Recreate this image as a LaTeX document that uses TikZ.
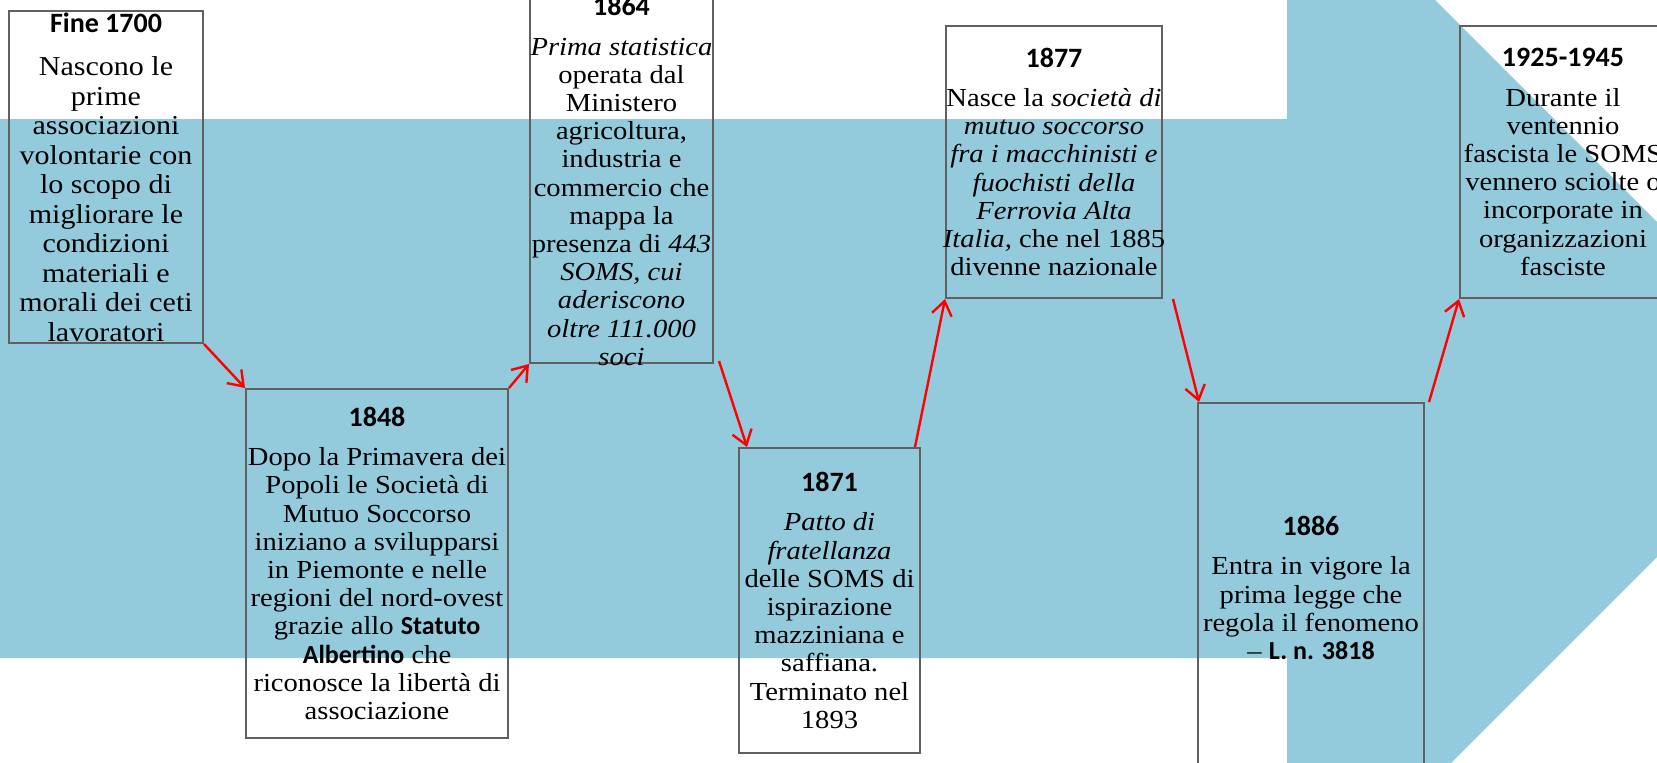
\documentclass[tikz,border=0pt]{standalone}
\usepackage{fontspec}
\setmainfont{Liberation Serif}[FakeStretch=1.1]
\newfontfamily\headfont{Carlito}
\usetikzlibrary{arrows.meta}
\definecolor{bandblue}{RGB}{147,203,220}
\definecolor{boxgray}{RGB}{96,96,96}
\newcommand{\anno}[2][5.5pt]{{\headfont\bfseries\fontsize{14}{14}\selectfont #2}\\[#1]}
\newcommand{\grassetto}[1]{{\headfont\bfseries #1}}

\begin{document}
\begin{tikzpicture}[x=0.5pt,y=-0.5pt,
	evbox/.style={draw=boxgray, line width=1pt, inner sep=0pt},
	evtext/.style={align=center, inner sep=0pt, font=\fontsize{13}{14.1}\selectfont},
	link/.style={red, line width=1.2pt, -{Straight Barb[length=7pt,width=10pt]}}]
	\useasboundingbox (0,0) rectangle (1657,762);
	\clip (0,0) rectangle (1657,762);
	%% background arrow
	\fill[bandblue] (0,119) -- (1287,119) -- (1287,-148) -- (1824.5,389.5)
		-- (1287,927) -- (1287,658) -- (0,658) -- cycle;
	%% boxes
	\node[evbox, minimum width=97pt, minimum height=166pt] (b1700) at (106,177) {};
	\node[evbox, minimum width=131pt, minimum height=174.5pt] (b1848) at (377,563.5) {};
	\node[evbox, minimum width=91.5pt, minimum height=182pt] (b1864) at (621.5,181) {};
	\node[evbox, minimum width=90.5pt, minimum height=152.5pt] (b1871) at (829.5,600.5) {};
	\node[evbox, minimum width=108pt, minimum height=136pt] (b1877) at (1054,162) {};
	\node[evbox, minimum width=113pt, minimum height=185pt] (b1886) at (1311,588) {};
	\node[evbox, minimum width=103pt, minimum height=136pt] (b1925) at (1563,162) {};
	%% texts
	\node[evtext, font=\fontsize{13.65}{14.75}\selectfont] (t1700) at (b1700) {\anno[7pt]{Fine 1700}Nascono le\\ prime\\ associazioni\\ volontarie con\\ lo scopo di\\ migliorare le\\ condizioni\\ materiali e\\ morali dei ceti\\ lavoratori};
	\node[evtext] (t1848) at (b1848) {\anno{1848}Dopo la Primavera dei\\ Popoli le Società di\\ Mutuo Soccorso\\ iniziano a svilupparsi\\ in Piemonte e nelle\\ regioni del nord-ovest\\ grazie allo \grassetto{Statuto}\\ \grassetto{Albertino} che\\ riconosce la libertà di\\ associazione};
	\node[evtext] (t1864) at (b1864) {\anno{1864}\emph{Prima statistica}\\ operata dal\\ Ministero\\ agricoltura,\\ industria e\\ commercio che\\ mappa la\\ presenza di \emph{443}\\ \emph{SOMS, cui}\\ \emph{aderiscono}\\ \emph{oltre 111.000}\\ \emph{soci}};
	\node[evtext] (t1871) at (b1871) {\anno{1871}\emph{Patto di}\\ \emph{fratellanza}\\ delle SOMS di\\ ispirazione\\ mazziniana e\\ saffiana.\\ Terminato nel\\ 1893};
	\node[evtext] (t1877) at (b1877) {\anno{1877}Nasce la \emph{società di}\\ \emph{mutuo soccorso}\\ \emph{fra i macchinisti e}\\ \emph{fuochisti della}\\ \emph{Ferrovia Alta}\\ \emph{Italia}, che nel 1885\\ divenne nazionale};
	\node[evtext] (t1886) at (b1886) {\anno{1886}Entra in vigore la\\ prima legge che\\ regola il fenomeno\\ -- \grassetto{L. n. 3818}};
	\node[evtext] (t1925) at (b1925) {\anno{1925-1945}Durante il\\ ventennio\\ fascista le SOMS\\ vennero sciolte o\\ incorporate in\\ organizzazioni\\ fasciste};
	%% links
	\draw[link] (b1700.south east) -- (b1848.north west);
	\draw[link] (b1848.north east) -- (b1864.south west);
	\draw[link] ([xshift=2.5pt,yshift=1.5pt]b1864.south east) -- ([xshift=4.5pt]b1871.north west);
	\draw[link] ([xshift=-3pt]b1871.north east) -- (b1877.south west);
	\draw[link] ([xshift=5pt]b1877.south east) -- ([xshift=1pt]b1886.north west);
	\draw[link] ([xshift=2pt]b1886.north east) -- (b1925.south west);
\end{tikzpicture}
\end{document}
